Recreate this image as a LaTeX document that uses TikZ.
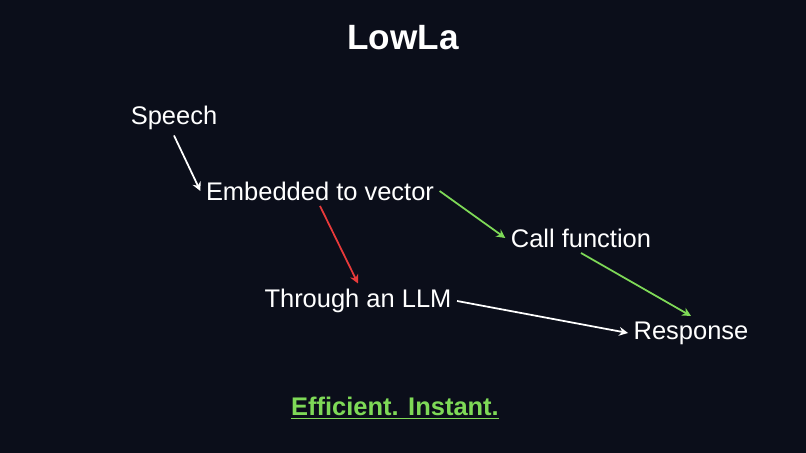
\documentclass[tikz,border=0pt]{standalone}
\usepackage{fontspec}
\setmainfont{Liberation Sans}
\usepackage{tikz}
\usetikzlibrary{arrows.meta,positioning}
\definecolor{bgdark}{HTML}{0B0E1A}
\definecolor{flowgreen}{HTML}{7ED957}
\definecolor{flowred}{HTML}{E83A3A}
\begin{document}
\begin{tikzpicture}[x=0.02cm,y=-0.02cm,
  stage/.style={text=white,font=\fontsize{14.5}{16}\selectfont,inner sep=3pt},
  link/.style={-{Stealth[length=5pt,width=5pt]},line width=1pt}]

\fill [bgdark] (0,0) rectangle (806,453); % background
\useasboundingbox (0,0) rectangle (806,453);

\node [text=white,font=\fontsize{20}{22}\selectfont\bfseries] (title) at (403,38) {LowLa};
%
\node [stage] (speech) at (174,118) {Speech};
\node [stage] (embed) at (320,191) {Embedded to vector};
\node [stage] (call) at (581,238) {Call function};
\node [stage] (llm) at (358,301) {Through an LLM};
\node [stage] (resp) at (691,333) {Response};
%
\node [text=flowgreen,font=\fontsize{14.5}{16}\selectfont\bfseries] (tag) at (395,408) {\underline{Efficient. Instant.}};

\draw [link,white] (speech.south) -- (embed.west);
\draw [link,flowgreen] (embed.east) -- (call.west);
\draw [link,flowred] (embed.south) -- (llm.north);
\draw [link,white] (llm.east) -- (resp.west);
\draw [link,flowgreen] (call.south) -- (resp.north);

\end{tikzpicture}
\end{document}
